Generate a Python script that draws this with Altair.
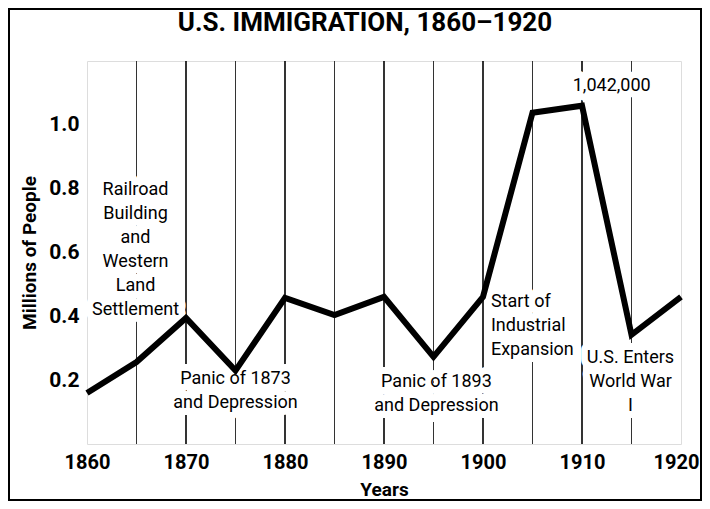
import altair as alt
import pandas as pd

# ---- data ----
years = [1860, 1865, 1870, 1875, 1880, 1885, 1890, 1895, 1900, 1905, 1910, 1915, 1920]
millions = [0.16, 0.257, 0.395, 0.23, 0.458, 0.404, 0.461, 0.273, 0.461, 1.038, 1.06, 0.342, 0.461]

grid_major = [1870, 1880, 1890, 1900, 1910]
grid_minor = [1865, 1875, 1885, 1895, 1905, 1915]

x_ticks = [1860, 1870, 1880, 1890, 1900, 1910, 1920]
y_ticks = [0.2, 0.4, 0.6, 0.8, 1.0]

title_text = ["U.S. IMMIGRATION, 1860–1920"]

# annotation text: position is that of the first line
ann_text = [
    "Railroad\nBuilding\nand\nWestern\nLand\nSettlement",
    "Panic of 1873\nand Depression",
    "Panic of 1893\nand Depression",
    "U.S. Enters\nWorld War\nI",
    "1,042,000",
    "Start of\nIndustrial\nExpansion",
]
ann_x = [1864.9, 1875.0, 1895.3, 1914.9, 1913.0, 1900.8]
ann_y = [0.796, 0.205, 0.195, 0.27, 1.122, 0.445]
ann_align = ["center", "center", "center", "center", "center", "left"]

FONT = "Roboto"

df = pd.DataFrame({"year": years, "millions": millions})
ann = pd.DataFrame({"text": ann_text, "year": ann_x, "millions": ann_y, "align": ann_align})
major = pd.DataFrame({"year": grid_major})
minor = pd.DataFrame({"year": grid_minor})
one = pd.DataFrame({"t": title_text})

W, H = 594, 383
PL, PR, PT, PB = 79, 21, 53, 57

xscale = alt.Scale(domain=[1860, 1920], nice=False, zero=False)
yscale = alt.Scale(domain=[0, 1.2], nice=False, zero=False)

x_axis = alt.Axis(
    values=x_ticks, format="d", title="Years", ticks=False, domain=False, grid=False,
    labelFont=FONT, labelFontSize=20, labelFontWeight="bold", labelColor="black",
    labelPadding=8, labelFlush=False, labelOverlap=False,
    labelOffset={"condition": {"test": "datum.value == 1920", "value": -5}, "value": 0},
    titleFont=FONT, titleFontSize=19, titleFontWeight="bold",
    titleColor="black", titleY=45, titleBaseline="middle",
)
y_axis = alt.Axis(
    values=y_ticks, format=".1f", title="Millions of People", ticks=False, domain=False,
    grid=False, labelFont=FONT, labelFontSize=21, labelFontWeight="bold",
    labelColor="black", labelPadding=8, labelFlush=False,
    titleFont=FONT, titleFontSize=19,
    titleFontWeight="bold", titleColor="black", titleX=-58, titleY=H / 2,
    titleAngle=-90, titleAlign="center", titleBaseline="middle",
)

minor_rules = alt.Chart(minor).mark_rule(color="#333333", strokeWidth=1).encode(
    x=alt.X("year:Q", scale=xscale, axis=x_axis)
)
major_rules = alt.Chart(major).mark_rule(color="black", strokeWidth=1.6).encode(
    x=alt.X("year:Q", scale=xscale)
)

line = alt.Chart(df).mark_line(color="black", strokeWidth=6, strokeJoin="miter").encode(
    x=alt.X("year:Q", scale=xscale),
    y=alt.Y("millions:Q", scale=yscale, axis=y_axis),
)


def ann_layer(align, halo):
    style = dict(font=FONT, fontSize=18, align=align, baseline="middle",
                 lineBreak="\n", lineHeight=24)
    if halo:
        style.update(color="white", stroke="white", strokeWidth=14, strokeJoin="round")
    else:
        style.update(color="black")
    return alt.Chart(ann).transform_filter(alt.datum.align == align).mark_text(
        **style
    ).encode(x="year:Q", y="millions:Q", text="text:N")


title = alt.Chart(one).mark_text(
    font=FONT, fontSize=26, fontWeight="bold", color="black", align="center",
    baseline="alphabetic",
).encode(x=alt.value(278), y=alt.value(-30), text="t:N")

border = alt.Chart(one).mark_rect(fillOpacity=0, stroke="black", strokeWidth=2).encode(
    x=alt.value(-PL + 1), x2=alt.value(W + PR - 1),
    y=alt.value(-PT + 1), y2=alt.value(H + PB - 1),
)

chart = alt.layer(
    minor_rules, major_rules,
    ann_layer("center", True), ann_layer("left", True),
    line,
    ann_layer("center", False), ann_layer("left", False),
    title, border,
).properties(
    width=W, height=H,
    autosize=alt.AutoSizeParams(type="none"),
    padding={"left": PL, "right": PR, "top": PT, "bottom": PB},
).configure_view(stroke="black", strokeWidth=2.5).configure(background="white")

chart.save("out.html", embed_options={"renderer": "svg", "actions": False})
